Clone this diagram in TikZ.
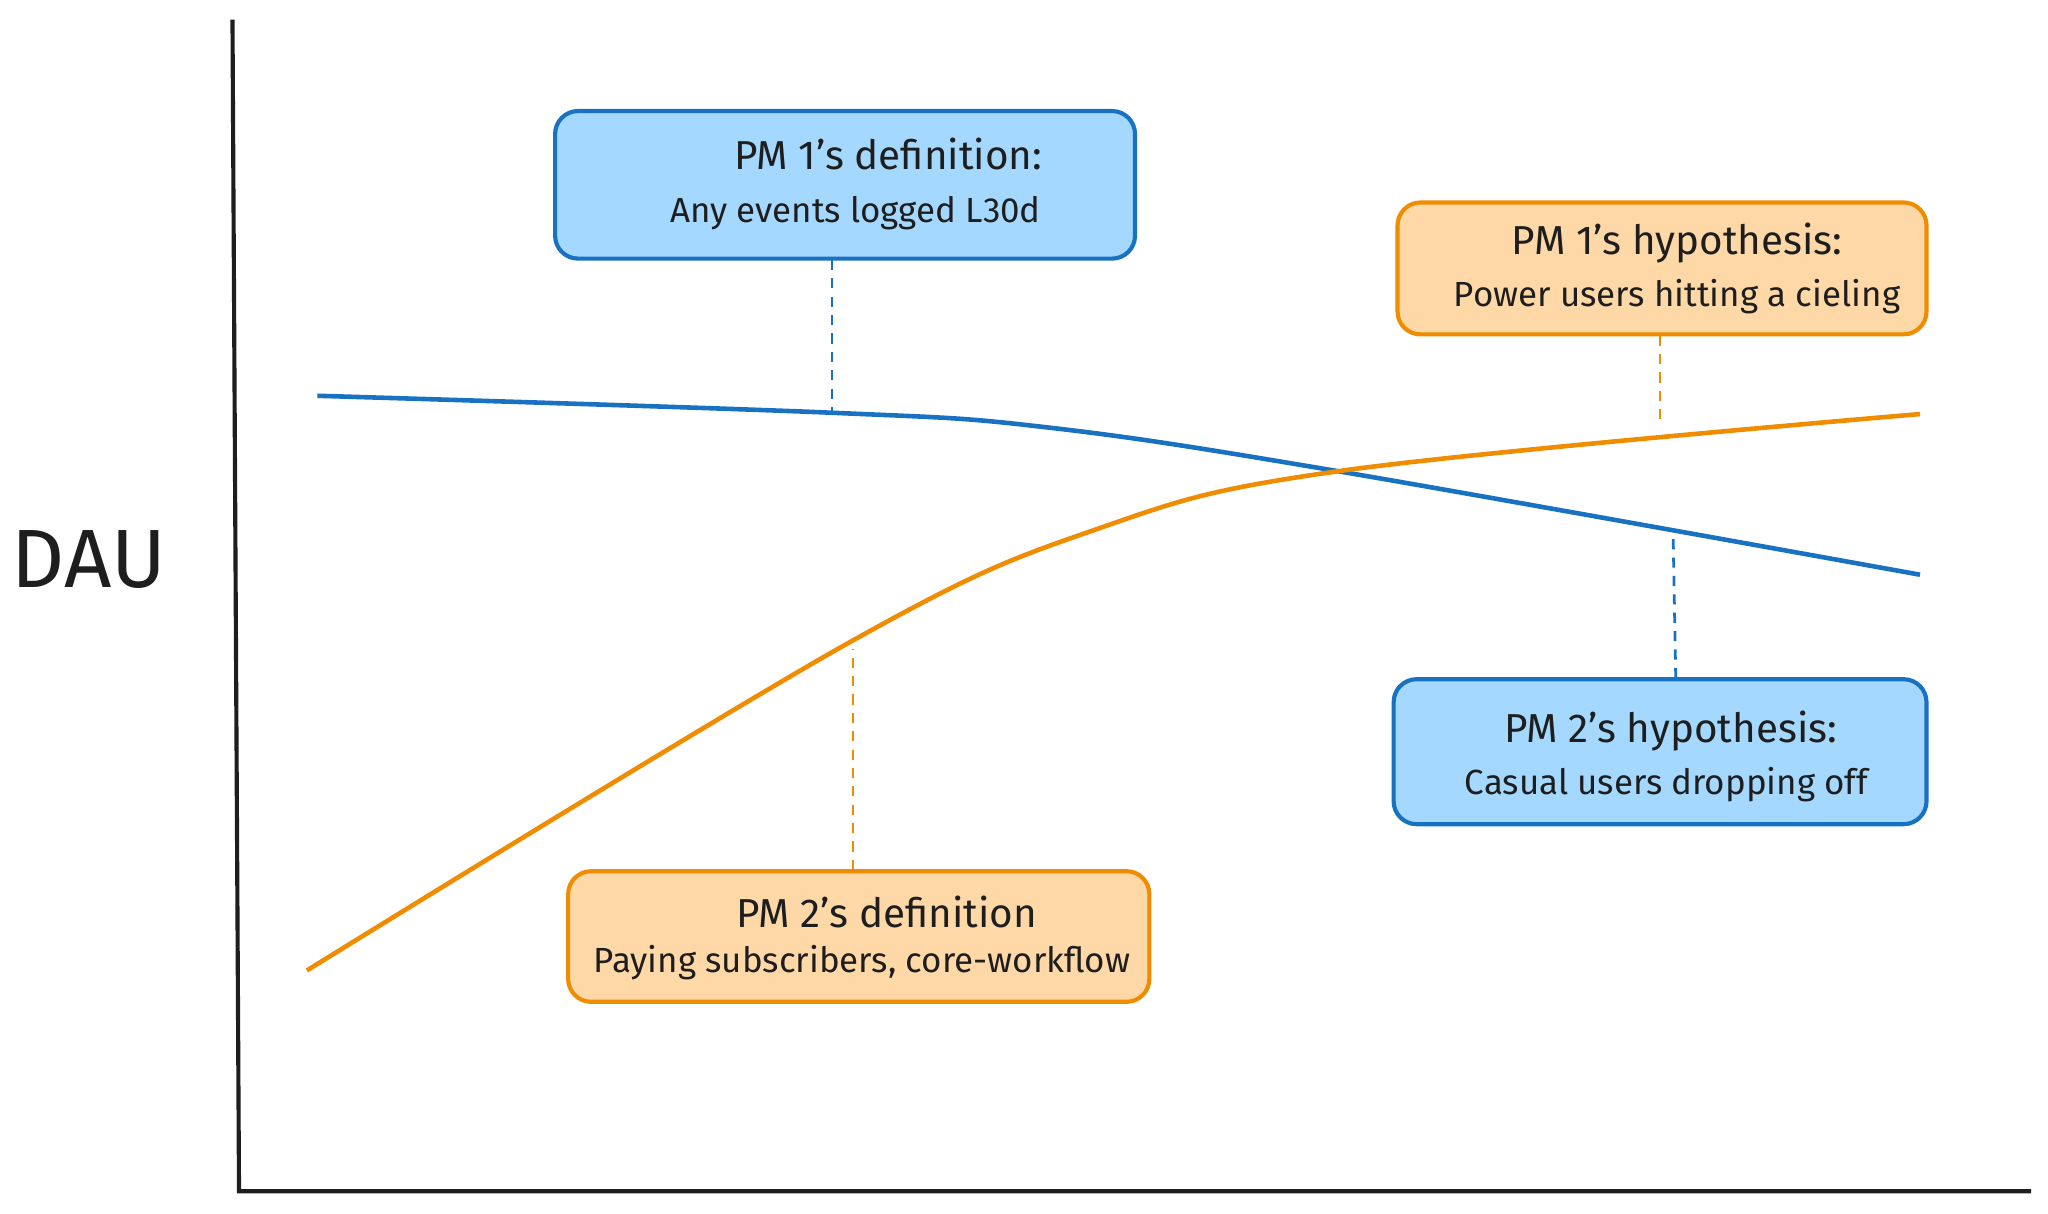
\documentclass[tikz,border=0pt]{standalone}
\usepackage{fontspec}
\setmainfont{Fira Sans}
\definecolor{bfill}{HTML}{A5D8FF}\definecolor{bline}{HTML}{1971C2}
\definecolor{ofill}{HTML}{FFD8A8}\definecolor{oline}{HTML}{F08C00}
\definecolor{ink}{HTML}{1E1E1E}
\begin{document}
\begin{tikzpicture}[x=0.01cm,y=-0.01cm,
 box/.style={draw,line width=0.9pt,rounded corners=5pt},
 bbox/.style={box,draw=bline,fill=bfill},
 obox/.style={box,draw=oline,fill=ofill},
 title/.style={font=\fontsize{8.8}{10}\selectfont,text=ink},
 sub/.style={font=\fontsize{7.6}{9}\selectfont,text=ink},
 dashln/.style={line width=0.6pt,dash pattern=on 2.2pt off 1.8pt}]
\useasboundingbox (0,0) rectangle (1568,929);
\draw[ink,line width=0.9pt] (178,15) -- (183,912) -- (1555,912);
\node[font=\fontsize{18}{20}\selectfont,text=ink] (dau) at (68,428) {DAU};
\draw[bline,line width=1pt] plot[smooth,tension=0.6] coordinates {(243,303) (637,316) (800,327) (1020,360) (1470,440)};
\draw[oline,line width=1pt] plot[smooth,tension=0.6] coordinates {(235,743) (650,492) (840,405) (1030,360) (1470,317)};
\coordinate (b1) at (637,317);
\coordinate (b2) at (1281,410);
\coordinate (o1) at (1271,325);
\coordinate (o2) at (653,497);
\path[bbox] (425,85) rectangle (869,198);
\node[title] (d1t) at (680,118) {PM 1's definition:};
\node[sub] (d1s) at (655,163) {Any events logged L30d};
\coordinate (d1b) at (637,199);
\path[obox] (1070,155) rectangle (1475,256);
\node[title] (h1t) at (1284,186) {PM 1's hypothesis:};
\node[sub] (h1s) at (1284,227) {Power users hitting a cieling};
\coordinate (h1b) at (1271,257);
\path[bbox] (1067,520) rectangle (1475,631);
\node[title] (h2t) at (1279,560) {PM 2's hypothesis:};
\node[sub] (h2s) at (1276,601) {Casual users dropping off};
\coordinate (h2b) at (1283,519);
\path[obox] (435,667) rectangle (880,767);
\node[title] (d2t) at (679,698) {PM 2's definition};
\node[sub] (d2s) at (660,737) {Paying subscribers, core-workflow};
\coordinate (d2b) at (653,666);
\draw[dashln,bline] (d1b) -- (b1);
\draw[dashln,bline] (h2b) -- (b2);
\draw[dashln,oline] (h1b) -- (o1);
\draw[dashln,oline] (d2b) -- (o2);
\end{tikzpicture}
\end{document}
